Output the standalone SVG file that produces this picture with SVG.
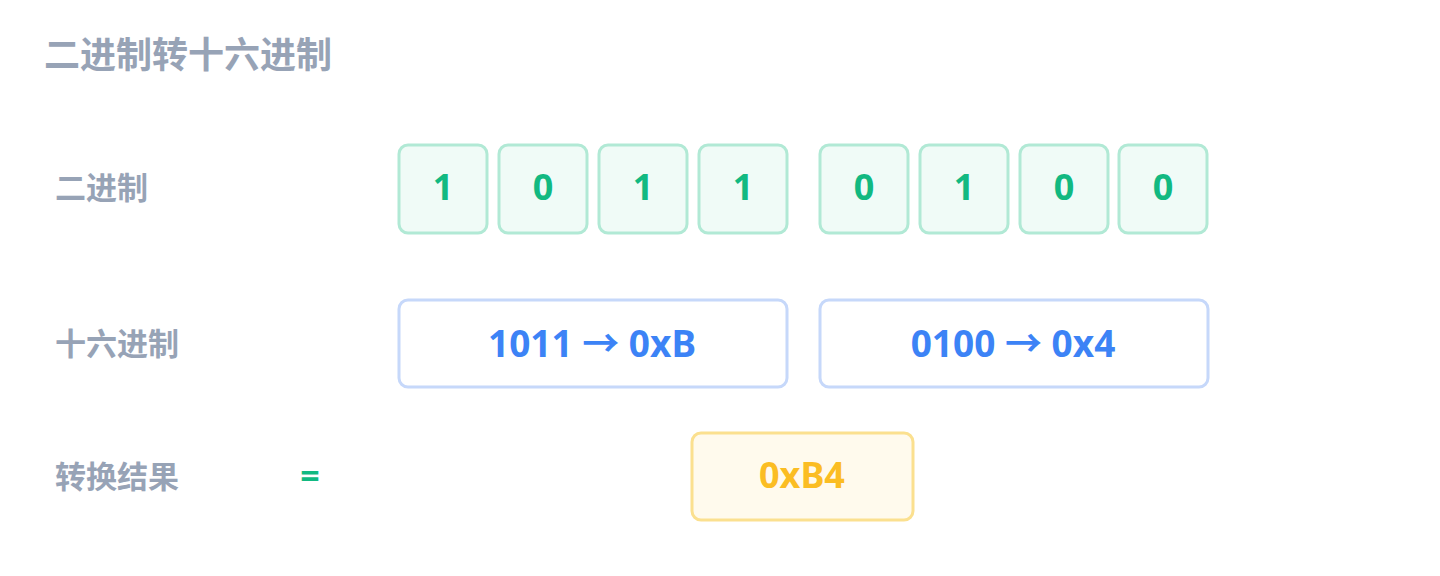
<svg xmlns="http://www.w3.org/2000/svg" width="1440" height="576" viewBox="0 0 1440 576">
<style>
text{font-family:"Noto Sans","Noto Sans CJK SC",sans-serif;font-weight:700;dominant-baseline:central}
.title{font-size:36px;fill:#97a3b6}
.lbl{font-size:31px;fill:#97a3b6}
.bit rect{fill:#f0fbf7;stroke:#b1e9d5;stroke-width:3}
.bit text{font-size:36px;fill:#12b981;text-anchor:middle}
.hex rect{fill:#ffffff;stroke:#c6d8fa;stroke-width:3}
.hex text{font-size:37px;fill:#3c83f6;text-anchor:middle}
.res rect{fill:#fffaed;stroke:#fbe08f;stroke-width:3}
.res text{font-size:36px;fill:#fbbd23;text-anchor:middle}
</style>
<rect width="1440" height="576" fill="#ffffff"/>
<text class="title" x="44" y="54">二进制转十六进制</text>
<text class="lbl" x="55" y="187">二进制</text>
<text class="lbl" x="55" y="343">十六进制</text>
<text class="lbl" x="55" y="476">转换结果</text>
<text x="310" y="475" style="font-size:34px;fill:#12b981;text-anchor:middle">=</text>
<g id="b1" class="bit"><rect x="399" y="145" width="88" height="88" rx="9"/><text x="443" y="186">1</text></g>
<g id="b2" class="bit"><rect x="499" y="145" width="88" height="88" rx="9"/><text x="543" y="186">0</text></g>
<g id="b3" class="bit"><rect x="599" y="145" width="88" height="88" rx="9"/><text x="643" y="186">1</text></g>
<g id="b4" class="bit"><rect x="699" y="145" width="88" height="88" rx="9"/><text x="743" y="186">1</text></g>
<g id="b5" class="bit"><rect x="820" y="145" width="88" height="88" rx="9"/><text x="864" y="186">0</text></g>
<g id="b6" class="bit"><rect x="920" y="145" width="88" height="88" rx="9"/><text x="964" y="186">1</text></g>
<g id="b7" class="bit"><rect x="1020" y="145" width="88" height="88" rx="9"/><text x="1064" y="186">0</text></g>
<g id="b8" class="bit"><rect x="1119" y="145" width="88" height="88" rx="9"/><text x="1163" y="186">0</text></g>
<g id="h1" class="hex"><rect x="399" y="300" width="388" height="87" rx="9"/><text x="592" y="342">1011 → 0xB</text></g>
<g id="h2" class="hex"><rect x="820" y="300" width="388" height="87" rx="9"/><text x="1013" y="342">0100 → 0x4</text></g>
<g id="r" class="res"><rect x="692" y="433" width="221" height="87" rx="9"/><text x="802" y="474">0xB4</text></g>
<g id="connectors"></g>
</svg>
